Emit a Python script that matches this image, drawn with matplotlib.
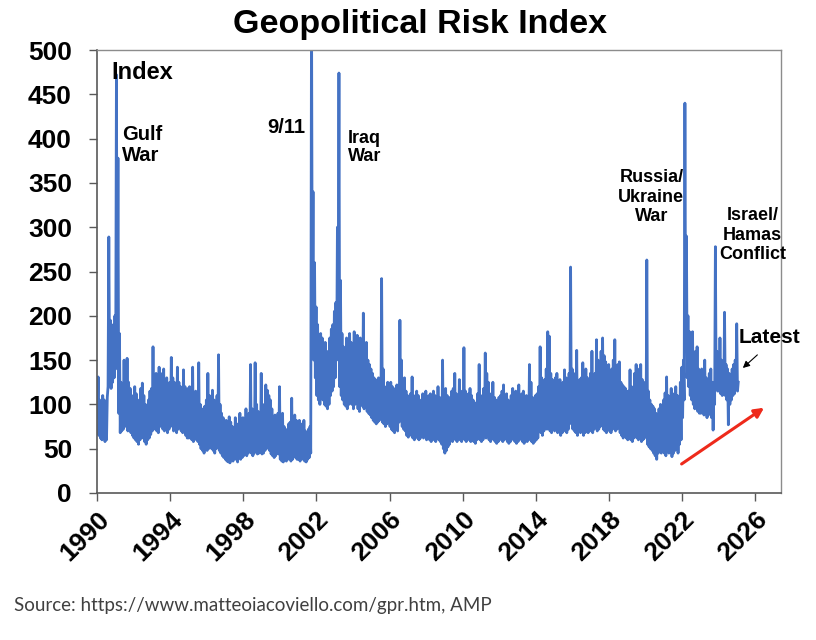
import numpy as np
import matplotlib
matplotlib.use("Agg")
import matplotlib.pyplot as plt

plt.rcParams['font.family'] = ['Liberation Sans', 'DejaVu Sans']

# Geopolitical risk index: for each month a low and a high (low, high, low, high, ...)
gpr_1990 = [85, 131, 65, 105, 62, 100, 60, 110, 62, 105, 58, 100, 60, 108, 120, 289, 140, 195, 118, 185, 125, 190, 130, 200]
gpr_1991 = [140, 472, 150, 378, 90, 180, 68, 125, 70, 110, 72, 150, 75, 148, 80, 152, 70, 125, 72, 118, 68, 110, 65, 105]
gpr_1992 = [62, 120, 60, 112, 58, 105, 55, 98, 60, 118, 64, 124, 62, 110, 58, 100, 55, 95, 60, 105, 62, 115, 66, 118]
gpr_1993 = [70, 165, 72, 130, 75, 135, 70, 128, 68, 142, 75, 135, 80, 130, 72, 140, 70, 122, 75, 130, 68, 120, 72, 125]
gpr_1994 = [75, 153, 78, 130, 70, 125, 72, 120, 68, 142, 72, 125, 75, 120, 70, 118, 68, 139, 70, 120, 65, 115, 62, 118]
gpr_1995 = [62, 120, 65, 112, 60, 142, 58, 110, 62, 115, 60, 105, 58, 147, 55, 100, 50, 95, 48, 92, 45, 98, 52, 105]
gpr_1996 = [48, 135, 50, 110, 52, 100, 50, 116, 48, 105, 45, 98, 50, 110, 52, 156, 48, 100, 45, 90, 42, 85, 40, 80]
gpr_1997 = [38, 82, 36, 78, 35, 86, 34, 80, 38, 75, 36, 70, 40, 85, 38, 78, 35, 72, 40, 90, 38, 82, 40, 85]
gpr_1998 = [42, 80, 45, 95, 42, 85, 45, 90, 48, 145, 45, 95, 42, 88, 45, 147, 48, 100, 44, 92, 45, 90, 48, 135]
gpr_1999 = [44, 92, 45, 100, 48, 122, 50, 116, 52, 110, 48, 105, 44, 95, 42, 85, 40, 88, 42, 82, 45, 90, 44, 120]
gpr_2000 = [38, 80, 36, 90, 35, 75, 38, 72, 36, 70, 38, 78, 40, 80, 36, 107, 38, 75, 42, 88, 40, 82, 38, 80]
gpr_2001 = [38, 82, 36, 78, 40, 75, 38, 82, 36, 70, 35, 68, 38, 72, 40, 75, 45, 560, 200, 340, 150, 260, 130, 210]
gpr_2002 = [110, 190, 105, 175, 100, 180, 115, 175, 105, 165, 100, 170, 98, 160, 95, 150, 100, 175, 110, 185, 115, 190, 120, 205]
gpr_2003 = [130, 215, 150, 300, 180, 474, 120, 240, 110, 180, 105, 165, 100, 160, 98, 175, 95, 155, 100, 180, 105, 170, 100, 160]
gpr_2004 = [95, 182, 100, 165, 105, 178, 95, 160, 92, 175, 100, 168, 98, 203, 95, 160, 100, 170, 92, 150, 90, 145, 88, 140]
gpr_2005 = [85, 135, 82, 130, 80, 128, 78, 125, 80, 130, 82, 125, 85, 242, 80, 140, 78, 120, 75, 118, 78, 125, 80, 120]
gpr_2006 = [75, 125, 72, 120, 70, 115, 68, 118, 72, 122, 70, 120, 80, 195, 85, 150, 75, 120, 72, 130, 70, 115, 65, 110]
gpr_2007 = [63, 105, 65, 112, 68, 131, 62, 110, 60, 108, 65, 115, 62, 110, 60, 100, 62, 105, 65, 112, 62, 108, 65, 115]
gpr_2008 = [60, 105, 62, 110, 60, 112, 58, 105, 62, 115, 60, 110, 58, 104, 62, 120, 60, 108, 58, 105, 55, 150, 50, 110]
gpr_2009 = [45, 118, 48, 110, 52, 105, 55, 108, 60, 115, 58, 118, 62, 135, 60, 112, 58, 110, 62, 128, 60, 115, 58, 112]
gpr_2010 = [62, 164, 60, 115, 58, 108, 62, 112, 60, 118, 58, 110, 60, 105, 58, 102, 56, 100, 60, 112, 62, 145, 60, 110]
gpr_2011 = [58, 108, 60, 118, 65, 158, 62, 135, 65, 125, 60, 112, 58, 110, 62, 125, 60, 108, 58, 105, 56, 102, 58, 108]
gpr_2012 = [60, 110, 62, 115, 58, 122, 60, 108, 62, 112, 58, 105, 56, 102, 58, 110, 62, 118, 60, 112, 58, 115, 56, 105]
gpr_2013 = [58, 122, 60, 110, 62, 112, 58, 115, 56, 108, 60, 110, 58, 105, 62, 145, 60, 125, 58, 108, 56, 105, 58, 110]
gpr_2014 = [60, 112, 62, 120, 70, 165, 68, 130, 65, 125, 70, 128, 75, 140, 72, 182, 75, 177, 70, 135, 68, 128, 72, 125]
gpr_2015 = [70, 130, 72, 135, 68, 125, 70, 128, 65, 120, 68, 125, 70, 139, 72, 130, 68, 125, 72, 135, 80, 255, 78, 140]
gpr_2016 = [72, 135, 70, 130, 68, 161, 65, 125, 70, 128, 68, 130, 70, 147, 65, 125, 68, 140, 70, 130, 68, 125, 72, 135]
gpr_2017 = [70, 160, 68, 130, 72, 135, 75, 173, 70, 150, 72, 140, 75, 160, 78, 175, 72, 155, 70, 148, 68, 140, 72, 145]
gpr_2018 = [70, 135, 68, 140, 72, 150, 75, 173, 70, 130, 72, 145, 75, 148, 68, 125, 65, 122, 62, 120, 65, 118, 62, 115]
gpr_2019 = [60, 115, 62, 139, 60, 120, 58, 118, 62, 135, 65, 145, 62, 140, 60, 125, 62, 145, 58, 128, 60, 120, 62, 125]
gpr_2020 = [70, 263, 55, 115, 52, 105, 50, 100, 48, 98, 45, 95, 42, 90, 38, 88, 45, 95, 48, 100, 45, 92, 50, 105]
gpr_2021 = [45, 113, 42, 131, 48, 110, 45, 105, 50, 118, 41, 100, 45, 112, 48, 120, 50, 110, 45, 105, 55, 125, 60, 142]
gpr_2022 = [85, 150, 105, 440, 160, 290, 130, 200, 120, 182, 110, 178, 105, 182, 100, 150, 95, 160, 100, 165, 92, 140, 90, 135]
gpr_2023 = [90, 140, 92, 135, 88, 150, 90, 130, 85, 128, 88, 135, 90, 140, 85, 125, 71, 120, 100, 278, 120, 160, 115, 150]
gpr_2024 = [115, 175, 112, 150, 110, 148, 115, 204, 110, 145, 105, 140, 77, 135, 100, 130, 105, 140, 110, 145, 112, 150, 118, 191]
gpr_2025 = [115, 125]

years_data = [gpr_1990, gpr_1991, gpr_1992, gpr_1993, gpr_1994, gpr_1995, gpr_1996, gpr_1997,
              gpr_1998, gpr_1999, gpr_2000, gpr_2001, gpr_2002, gpr_2003, gpr_2004, gpr_2005,
              gpr_2006, gpr_2007, gpr_2008, gpr_2009, gpr_2010, gpr_2011, gpr_2012, gpr_2013,
              gpr_2014, gpr_2015, gpr_2016, gpr_2017, gpr_2018, gpr_2019, gpr_2020, gpr_2021,
              gpr_2022, gpr_2023, gpr_2024, gpr_2025]

x_ticks = [1990, 1994, 1998, 2002, 2006, 2010, 2014, 2018, 2022, 2026]
y_ticks = [0, 50, 100, 150, 200, 250, 300, 350, 400, 450, 500]

gpr = np.concatenate(years_data)
# two readings per month -> half-month steps
t = 1990 + 1 / 48 + np.arange(len(gpr)) / 24

fig = plt.figure(figsize=(8.16, 6.4), dpi=100)
ax = fig.add_axes([97 / 816, 1 - 493 / 640, 684 / 816, 443 / 640])

ax.plot(t, gpr, color='#4472C4', lw=2.0)

ax.set_xlim(1990, 2027.4)
ax.set_ylim(0, 500)
ax.set_xticks(x_ticks)
ax.set_yticks(y_ticks)
ax.set_xticklabels([str(v) for v in x_ticks], rotation=45, ha='right', va='top',
                   rotation_mode='anchor', fontsize=19, fontweight='bold')
ax.set_yticklabels([str(v) for v in y_ticks], fontsize=19, fontweight='bold')
ax.tick_params(direction='out', length=6, width=1, color='#595959')
ax.tick_params(axis='y', pad=12)
ax.tick_params(axis='x', pad=4)

for side in ['left', 'bottom']:
    ax.spines[side].set_color('#595959')
    ax.spines[side].set_linewidth(1.2)
for side in ['top', 'right']:
    ax.spines[side].set_color('#8c8c8c')
    ax.spines[side].set_linewidth(1.0)

fig.text(420 / 816, 1 - 25 / 640, 'Geopolitical Risk Index', ha='center', va='center',
         fontsize=24.5, fontweight='bold')

# annotations
ax.text(1990.77, 475, 'Index', ha='left', va='center', fontsize=17, fontweight='bold')
ax.text(1991.37, 393, 'Gulf\nWar', ha='left', va='center', fontsize=14.5, fontweight='bold',
        linespacing=1.1)
ax.text(2001.38, 412, '9/11', ha='right', va='center', fontsize=14.5, fontweight='bold')
ax.text(2003.73, 390, 'Iraq\nWar', ha='left', va='center', fontsize=13, fontweight='bold',
        linespacing=1.1)
ax.text(2020.31, 334, 'Russia/\nUkraine\nWar', ha='center', va='center', fontsize=13,
        fontweight='bold', linespacing=1.2)
ax.text(2025.83, 291, 'Israel/\nHamas\nConflict', ha='center', va='center', fontsize=13,
        fontweight='bold', linespacing=1.2)
ax.text(2025.07, 175, 'Latest', ha='left', va='center', fontsize=15, fontweight='bold')

ax.annotate('', xy=(2025.2, 139), xytext=(2026.22, 158),
            arrowprops=dict(arrowstyle='-|>', color='black', lw=0.8, mutation_scale=10))
ax.annotate('', xy=(2026.6, 98), xytext=(2021.84, 31),
            arrowprops=dict(arrowstyle='-|>', color='#EE2A1B', lw=2.2, mutation_scale=14))

fig.text(14 / 816, 1 - 606 / 640, 'Source: https://www.matteoiacoviello.com/gpr.htm, AMP',
         ha='left', va='center', fontsize=13.5, color='#404040', family=['Lato', 'DejaVu Sans'])

fig.savefig('out.png', dpi=100)
